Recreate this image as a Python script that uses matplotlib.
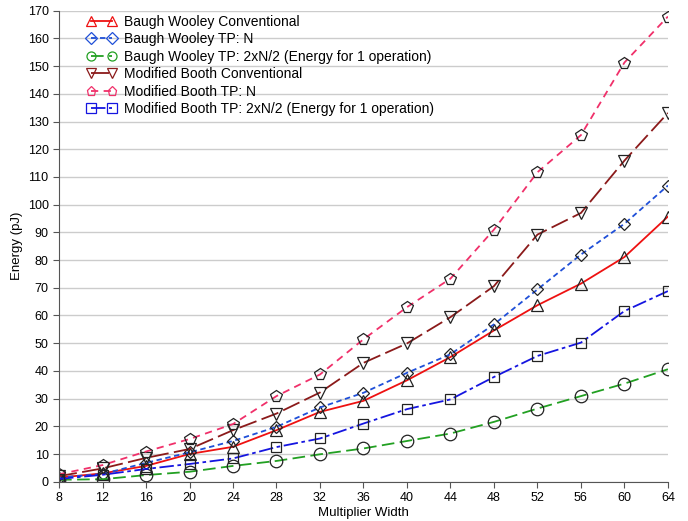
import matplotlib.pyplot as plt

plt.rcParams['font.family'] = ['Liberation Sans', 'DejaVu Sans']

widths = [8, 12, 16, 20, 24, 28, 32, 36, 40, 44, 48, 52, 56, 60, 64]

bw_conv = [1.5, 3.0, 5.7, 10.0, 12.6, 18.6, 25.2, 29.2, 36.6, 45.0, 54.6, 63.7, 71.5, 81.1, 95.7]
bw_tp_n = [1.5, 2.8, 6.8, 10.6, 14.7, 19.8, 26.8, 32.1, 39.3, 46.0, 56.8, 69.4, 82.0, 93.1, 106.9]
bw_tp_2n = [0.7, 0.9, 2.4, 3.6, 5.7, 7.5, 9.9, 12.0, 14.7, 17.4, 21.6, 26.4, 30.9, 35.4, 40.6]
mb_conv = [2.0, 4.8, 8.6, 11.8, 18.6, 24.6, 32.2, 42.9, 49.9, 59.4, 70.6, 89.2, 97.0, 115.9, 133.1]
mb_tp_n = [2.7, 6.0, 10.9, 15.4, 20.8, 30.9, 38.7, 51.4, 63.0, 73.3, 91.0, 111.7, 125.1, 151.3, 167.9]
mb_tp_2n = [1.0, 2.5, 4.6, 6.4, 8.4, 12.5, 15.6, 21.0, 26.2, 29.7, 37.8, 45.4, 50.2, 61.6, 68.8]

series = [
    ('Baugh Wooley Conventional', bw_conv, '#ee1111', '-', '^'),
    ('Baugh Wooley TP: N', bw_tp_n, '#1f4fd8', (0, (3, 2)), 'D'),
    ('Baugh Wooley TP: 2xN/2 (Energy for 1 operation)', bw_tp_2n, '#22a022', (0, (7, 3)), 'o'),
    ('Modified Booth Conventional', mb_conv, '#8b1a1a', (0, (10, 3)), 'v'),
    ('Modified Booth TP: N', mb_tp_n, '#f0306a', (0, (4, 3)), 'p'),
    ('Modified Booth TP: 2xN/2 (Energy for 1 operation)', mb_tp_2n, '#1515e0', (0, (8, 2, 2, 2)), 's'),
]
msizes = {'^': 8, 'D': 6.5, 'o': 9, 'v': 8, 'p': 8.5, 's': 6.5}

fig = plt.figure(figsize=(6.88, 5.21), dpi=100)
ax = fig.add_axes([0.0858, 0.0754, 0.885, 0.904])

for label, vals, color, ls, mk in series:
    ax.plot(widths, vals, color=color, linestyle=ls, linewidth=1.3,
            marker=mk, markersize=msizes[mk], markerfacecolor='none',
            markeredgecolor='#222222', markeredgewidth=0.9, label=label)

ax.set_xlim(8, 64)
ax.set_ylim(0, 170)
ax.set_xticks(widths)
ax.set_yticks(range(0, 171, 10))
ax.yaxis.grid(True, color='#cccccc', linewidth=1.0)
ax.set_axisbelow(True)
for side in ['top', 'right']:
    ax.spines[side].set_visible(False)
for side in ['left', 'bottom']:
    ax.spines[side].set_color('#555555')
ax.tick_params(labelsize=9, length=4, color='#555555')
ax.set_xlabel('Multiplier Width', fontsize=9.5, labelpad=2)
ax.set_ylabel('Energy (pJ)', fontsize=9.5, labelpad=3)

leg = ax.legend(loc='upper left', bbox_to_anchor=(0.025, 1.018), frameon=False,
                numpoints=2, fontsize=10, handlelength=2.1, labelspacing=0.25,
                handletextpad=0.55)
for h, (label, vals, color, ls, mk) in zip(leg.legend_handles, series):
    h.set_markeredgecolor(color)
    h.set_markersize(6.5)

fig.savefig('out.png', dpi=100)
